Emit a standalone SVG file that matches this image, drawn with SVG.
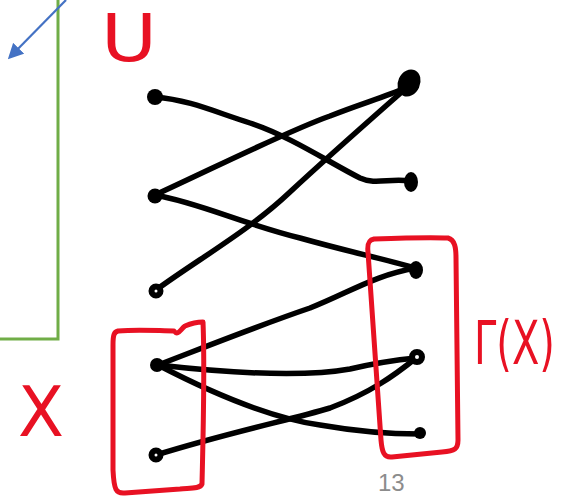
<svg xmlns="http://www.w3.org/2000/svg" width="562" height="497" viewBox="0 0 562 497">
<defs>
<style>
.e{fill:none;stroke:#000;stroke-width:5.5;stroke-linecap:round;stroke-linejoin:round}
.v{fill:#000}
.ring{fill:#fff;stroke:#000;stroke-width:6}
.box{fill:none;stroke:#e81123;stroke-width:5;stroke-linejoin:round}
.lbl{fill:#e81123;font-family:"DejaVu Sans",sans-serif}
</style>
<marker id="ah" viewBox="0 0 10 10" refX="8" refY="5" markerWidth="7" markerHeight="7" orient="auto" markerUnits="strokeWidth">
<path d="M0,0 L10,5 L0,10 Z" fill="#4472c4"/>
</marker>
</defs>
<rect width="562" height="497" fill="#fff"/>
<path d="M58,0 L58,339 L0,339" fill="none" stroke="#70ad47" stroke-width="3"/>
<line x1="66" y1="0" x2="10" y2="57" stroke="#4472c4" stroke-width="2.2" marker-end="url(#ah)"/>

<g id="connectors">
<path class="e" d="M155,97 C190,100 215,112 250,123 C290,136 330,163 360,178 C375,185 390,178 410,181"/>
<path class="e" d="M155,195 C220,165 290,130 330,116 C360,104 385,97 405,88"/>
<path class="e" d="M156,290 C200,258 250,230 290,192 C330,155 370,120 404,90"/>
<path class="e" d="M155,195 C200,203 240,223 300,238 C350,252 380,258 415,268"/>
<path class="e" d="M158,365 C210,345 260,325 310,308 C350,292 375,275 416,268"/>
<path class="e" d="M158,365 C220,372 300,378 350,369 C380,362 395,360 416,358"/>
<path class="e" d="M158,365 C210,392 270,418 320,425 C360,432 390,434 420,434"/>
<path class="e" d="M156,455 C230,432 290,420 330,408 C370,393 395,375 416,358"/>
</g>

<g id="u1"><circle class="v" cx="155" cy="97" r="8"/></g>
<g id="u2"><circle class="v" cx="155" cy="196" r="7.5"/></g>
<g id="u3"><circle class="ring" cx="156" cy="291" r="4.5"/></g>
<g id="x1"><circle class="v" cx="157" cy="365" r="7"/></g>
<g id="x2"><circle class="ring" cx="156" cy="455" r="4.5"/></g>
<g id="r1"><ellipse class="v" cx="409" cy="83" rx="11" ry="14" transform="rotate(25 409 83)"/></g>
<g id="r2"><ellipse class="v" cx="411" cy="182" rx="7" ry="10"/></g>
<g id="r3"><ellipse class="v" cx="416" cy="270" rx="7" ry="9"/></g>
<g id="r4"><circle class="ring" cx="417" cy="357" r="5"/></g>
<g id="r5"><circle class="v" cx="420" cy="433" r="6"/></g>

<g id="boxX"><path class="box" d="M118,331 C140,329 160,331 174,331 C178,336 180,330 185,326 C192,323 198,322 203,322 C205,370 203,440 202,484 C200,489 190,488 180,489 L125,493 C116,494 114,490 113,470 L113,345 C113,335 114,332 118,331 Z"/></g>
<g id="boxG"><path class="box" d="M374,239 C400,238 430,237 448,238 C455,240 456,248 456,258 L458,440 C458,449 455,451 442,452 L392,457 C384,458 382,452 381,440 L368,252 C367,243 369,240 374,239 Z"/></g>

<g id="labels">
<text class="lbl" x="101" y="61" font-size="66" textLength="56" lengthAdjust="spacingAndGlyphs">U</text>
<text class="lbl" x="18" y="436" font-size="70" textLength="46" lengthAdjust="spacingAndGlyphs">X</text>
<text class="lbl" x="0" y="0" font-size="40" transform="translate(474,364) scale(1,1.5)">Γ(X)</text>
<text x="378" y="491" font-size="24" fill="#8c8c8c" font-family="'Liberation Sans',sans-serif">13</text>
</g>
</svg>
